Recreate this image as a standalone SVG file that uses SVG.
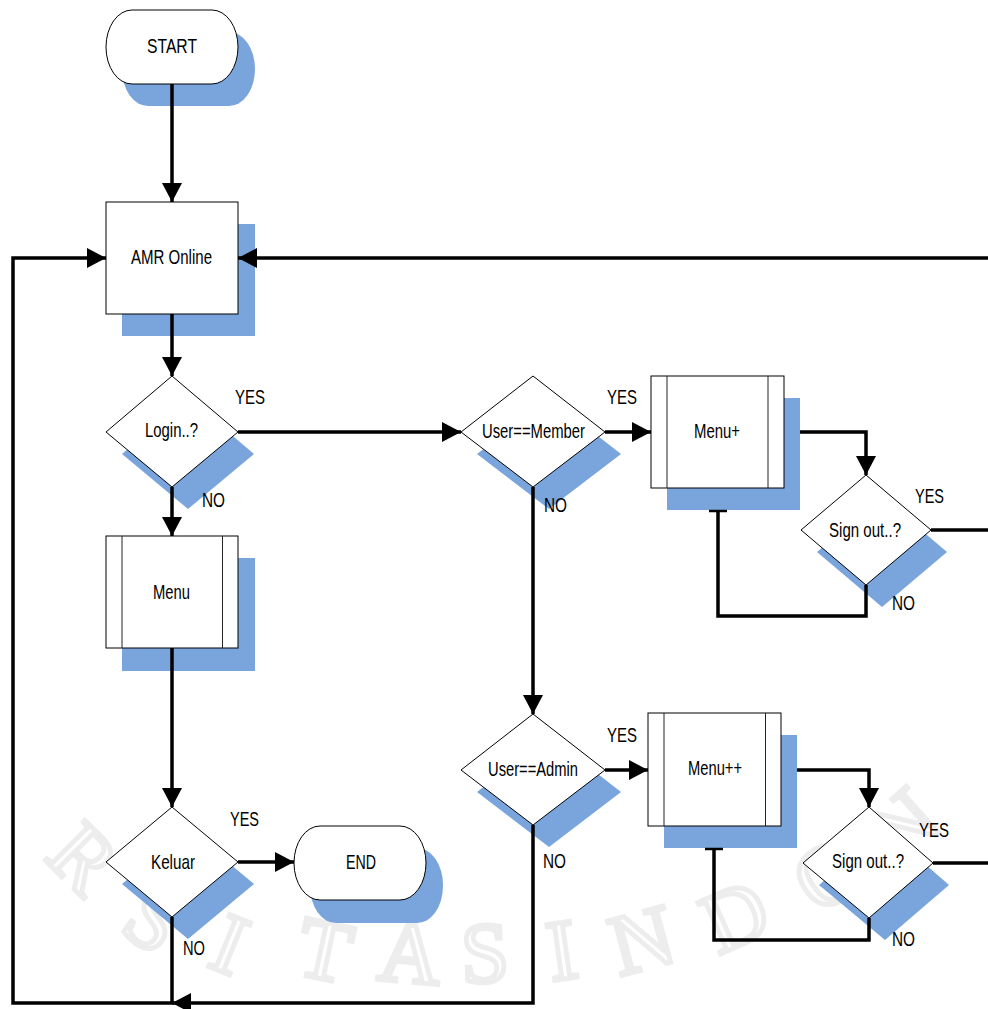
<svg xmlns="http://www.w3.org/2000/svg" width="988" height="1009" viewBox="0 0 988 1009">
  <defs>
    <style>
      .sh{fill:#79a5dc}
      .nd{fill:#fff;stroke:#000;stroke-width:1}
      .in{fill:none;stroke:#222;stroke-width:1}
      .t{font-family:"Liberation Sans",Arial,sans-serif;font-size:21px;fill:#000}
      .c{fill:none;stroke:#000;stroke-width:3.5}
      .tk{fill:none;stroke:#000;stroke-width:2.5}
      .wm{font-family:"Liberation Serif","Times New Roman",serif;font-size:86px;fill:none;stroke:#000;stroke-opacity:.07;stroke-width:5}
    </style>
    <marker id="ah" markerWidth="20" markerHeight="20" refX="19" refY="10" orient="auto" markerUnits="userSpaceOnUse">
      <path d="M0,0 L19,10 L0,20 z" fill="#000"/>
    </marker>
  </defs>

  <rect width="988" height="1009" fill="#fff"/>

  <!-- faint seal lettering around the lower arc -->
  <g id="seal" class="wm" text-anchor="middle">
    <text transform="translate(84,858) rotate(45)" y="29">R</text>
    <text transform="translate(154,920) rotate(35)" y="29">S</text>
    <text transform="translate(230,944) rotate(22)" y="29">I</text>
    <text transform="translate(325,950) rotate(12)" y="29">T</text>
    <text transform="translate(410,953) rotate(5)" y="29">A</text>
    <text transform="translate(485,953) rotate(-2)" y="29">S</text>
    <text transform="translate(562,950) rotate(-8)" y="29">I</text>
    <text transform="translate(642,940) rotate(-15)" y="29">N</text>
    <text transform="translate(735,916) rotate(-24)" y="29">D</text>
    <text transform="translate(828,874) rotate(-33)" y="29">O</text>
    <text transform="translate(903,826) rotate(-42)" y="29">N</text>
  </g>

  <!-- terminator: START -->
  <g id="start">
    <rect class="sh" x="122" y="32" width="133" height="74" rx="26" ry="37"/>
    <rect class="nd" x="106" y="10" width="132" height="74" rx="26" ry="37"/>
    <text class="t" x="147" y="53" textLength="50" lengthAdjust="spacingAndGlyphs">START</text>
  </g>

  <!-- process: AMR Online -->
  <g id="amr">
    <rect class="sh" x="122" y="224" width="133" height="112"/>
    <rect class="nd" x="106" y="202" width="132" height="112"/>
    <text class="t" x="131" y="264" textLength="81" lengthAdjust="spacingAndGlyphs">AMR Online</text>
  </g>

  <!-- decision: Login -->
  <g id="login">
    <polygon class="sh" points="188,398 254,454 188,509 122,454"/>
    <polygon class="nd" points="172,376 238,432 172,487 106,432"/>
    <text class="t" x="145" y="437" textLength="53" lengthAdjust="spacingAndGlyphs">Login..?</text>
  </g>

  <!-- predefined process: Menu -->
  <g id="menu">
    <rect class="sh" x="122" y="558" width="133" height="113"/>
    <rect class="nd" x="106" y="536" width="132" height="112"/>
    <path class="in" d="M122,536 V648 M222.5,536 V648"/>
    <text class="t" x="153" y="599" textLength="37" lengthAdjust="spacingAndGlyphs">Menu</text>
  </g>

  <!-- decision: Keluar -->
  <g id="keluar">
    <polygon class="sh" points="188,829 254,884 188,939 122,884"/>
    <polygon class="nd" points="172,807 238,862 172,917 106,862"/>
    <text class="t" x="151" y="869" textLength="44" lengthAdjust="spacingAndGlyphs">Keluar</text>
  </g>

  <!-- terminator: END -->
  <g id="end">
    <rect class="sh" x="310" y="848" width="133" height="75" rx="26" ry="37"/>
    <rect class="nd" x="294" y="826" width="132" height="74" rx="26" ry="37"/>
    <text class="t" x="346" y="869" textLength="30" lengthAdjust="spacingAndGlyphs">END</text>
  </g>

  <!-- decision: User==Member -->
  <g id="member">
    <polygon class="sh" points="549,398 621,454 549,509 477,454"/>
    <polygon class="nd" points="533,376 605,432 533,487 461,432"/>
    <text class="t" x="482" y="438" textLength="103" lengthAdjust="spacingAndGlyphs">User==Member</text>
  </g>

  <!-- predefined process: Menu+ -->
  <g id="menuplus">
    <rect class="sh" x="667" y="398" width="133" height="112"/>
    <rect class="nd" x="651" y="376" width="133" height="112"/>
    <path class="in" d="M667,376 V488 M768,376 V488"/>
    <text class="t" x="694" y="437.5" textLength="46" lengthAdjust="spacingAndGlyphs">Menu+</text>
  </g>

  <!-- decision: Sign out (member) -->
  <g id="signout1">
    <polygon class="sh" points="882,497 947,552 882,607 817,552"/>
    <polygon class="nd" points="866,475 931,530 866,585 801,530"/>
    <text class="t" x="829" y="537" textLength="72" lengthAdjust="spacingAndGlyphs">Sign out..?</text>
  </g>

  <!-- decision: User==Admin -->
  <g id="admin">
    <polygon class="sh" points="549,736 621,792 549,847 477,792"/>
    <polygon class="nd" points="533,714 605,770 533,825 461,770"/>
    <text class="t" x="488" y="776" textLength="90" lengthAdjust="spacingAndGlyphs">User==Admin</text>
  </g>

  <!-- predefined process: Menu++ -->
  <g id="menuplusplus">
    <rect class="sh" x="664" y="735" width="133" height="113"/>
    <rect class="nd" x="648" y="713" width="133" height="113"/>
    <path class="in" d="M664,713 V826 M765.5,713 V826"/>
    <text class="t" x="688" y="775" textLength="54" lengthAdjust="spacingAndGlyphs">Menu++</text>
  </g>

  <!-- decision: Sign out (admin) -->
  <g id="signout2">
    <polygon class="sh" points="885,829 949,885 885,940 819,885"/>
    <polygon class="nd" points="869,807 933,863 869,918 803,863"/>
    <text class="t" x="832" y="868" textLength="72" lengthAdjust="spacingAndGlyphs">Sign out..?</text>
  </g>

  <!-- connectors -->
  <g id="connectors">
    <path class="c" d="M172,84 V202" marker-end="url(#ah)"/>
    <path class="c" d="M172,314 V376" marker-end="url(#ah)"/>
    <path class="c" d="M238,432 H461" marker-end="url(#ah)"/>
    <path class="c" d="M172,487 V536" marker-end="url(#ah)"/>
    <path class="c" d="M605,432 H651" marker-end="url(#ah)"/>
    <path class="c" d="M533,487 V714" marker-end="url(#ah)"/>
    <path class="c" d="M800,432 H866 V475" marker-end="url(#ah)"/>
    <path class="c" d="M931,530 H988"/>
    <path class="c" d="M866,585 V616 H718 V511"/>
    <path class="tk" d="M709,511 H727"/>
    <path class="c" d="M988,258 H238" marker-end="url(#ah)"/>
    <path class="c" d="M172,648 V807" marker-end="url(#ah)"/>
    <path class="c" d="M238,862 H294" marker-end="url(#ah)"/>
    <path class="c" d="M172,917 V1003 H13 V258 H106" marker-end="url(#ah)"/>
    <path class="c" d="M605,770 H648" marker-end="url(#ah)"/>
    <path class="c" d="M533,825 V1003 H172" marker-end="url(#ah)"/>
    <path class="c" d="M797,770 H869 V807" marker-end="url(#ah)"/>
    <path class="c" d="M933,863 H988"/>
    <path class="c" d="M869,918 V940 H714 V849"/>
    <path class="tk" d="M705,849 H723"/>
  </g>

  <!-- branch labels -->
  <g id="labels">
    <text class="t" x="235" y="404" textLength="30" lengthAdjust="spacingAndGlyphs">YES</text>
    <text class="t" x="202" y="507" textLength="23" lengthAdjust="spacingAndGlyphs">NO</text>
    <text class="t" x="607" y="404" textLength="30" lengthAdjust="spacingAndGlyphs">YES</text>
    <text class="t" x="544" y="512" textLength="23" lengthAdjust="spacingAndGlyphs">NO</text>
    <text class="t" x="915" y="503" textLength="29" lengthAdjust="spacingAndGlyphs">YES</text>
    <text class="t" x="892" y="610" textLength="23" lengthAdjust="spacingAndGlyphs">NO</text>
    <text class="t" x="607" y="742" textLength="30" lengthAdjust="spacingAndGlyphs">YES</text>
    <text class="t" x="543" y="868" textLength="23" lengthAdjust="spacingAndGlyphs">NO</text>
    <text class="t" x="919" y="837" textLength="30" lengthAdjust="spacingAndGlyphs">YES</text>
    <text class="t" x="892" y="946" textLength="23" lengthAdjust="spacingAndGlyphs">NO</text>
    <text class="t" x="230" y="826" textLength="29" lengthAdjust="spacingAndGlyphs">YES</text>
    <text class="t" x="183" y="955" textLength="22" lengthAdjust="spacingAndGlyphs">NO</text>
  </g>
</svg>
